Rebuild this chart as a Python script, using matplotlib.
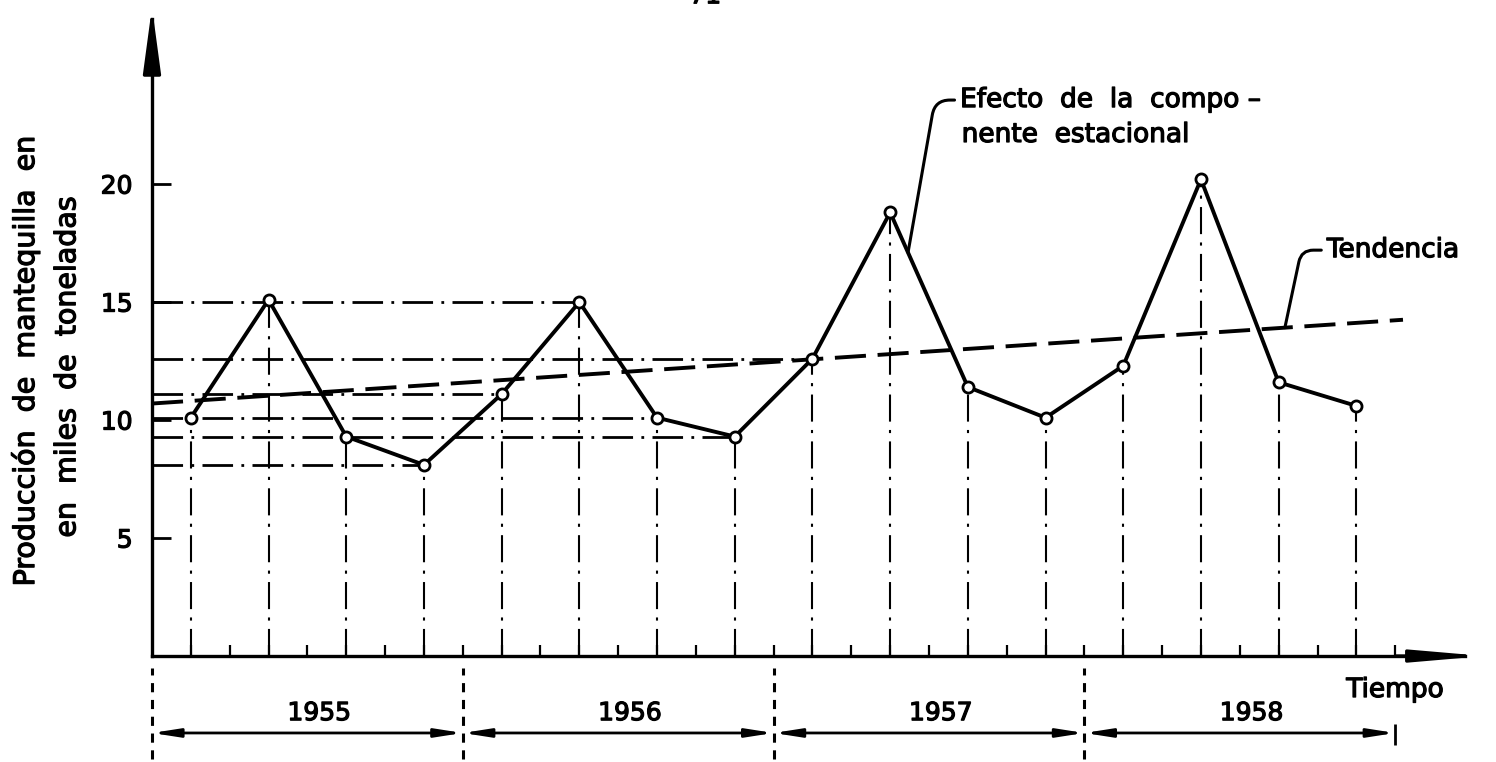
import numpy as np
import matplotlib
matplotlib.use('Agg')
import matplotlib.pyplot as plt
import matplotlib.patheffects as pe

plt.rcParams['font.family'] = ['DejaVu Sans']

# produccion trimestral de mantequilla (miles de toneladas), 1955-1958
anios = ['1955', '1956', '1957', '1958']
trimestre = np.arange(16) + 0.5
produccion = [10.1, 15.1, 9.3, 8.1,
              11.1, 15.0, 10.1, 9.3,
              12.6, 18.8, 11.4, 10.1,
              12.3, 20.2, 11.6, 10.6]
# puntos que llevan linea horizontal hasta el eje
con_referencia = [3, 4, 5, 6, 7, 8]
# recta de tendencia (extremos)
tend_t = [0.0, 16.1]
tend_v = [10.7, 14.25]
yticks = [5, 10, 15, 20]

K = 'black'
grueso = [pe.withStroke(linewidth=0.9, foreground=K)]

fig = plt.figure(figsize=(14.96, 7.62), dpi=100)
ax = fig.add_axes([0, 0, 1, 1])
ax.set_xlim(-1.956, 17.297)
ax.set_ylim(-4.49, 27.80)
ax.patch.set_visible(False)

for s in ['top', 'right']:
    ax.spines[s].set_visible(False)
ax.spines['left'].set_position(('data', 0))
ax.spines['bottom'].set_position(('data', 0))
ax.spines['left'].set_bounds(0, 27.0)
ax.spines['bottom'].set_bounds(0, 16.9)
ax.spines['left'].set_linewidth(2.4)
ax.spines['bottom'].set_linewidth(2.4)

ax.set_yticks(yticks)
ax.set_yticklabels([str(v) for v in yticks])
ax.tick_params(axis='y', direction='in', length=14, width=2, pad=14,
               labelsize=18, colors=K)
for lb in ax.get_yticklabels():
    lb.set_path_effects(grueso)
ax.set_xticks(np.arange(0.5, 16.01, 0.5))
ax.set_xticklabels([])
ax.tick_params(axis='x', direction='in', length=8, width=1.6, colors=K)

# flechas de los ejes
ax.annotate('', xy=(0, 27.5), xytext=(0, 25.5),
            arrowprops=dict(arrowstyle='-|>,head_length=2.0,head_width=0.27',
                            mutation_scale=20, lw=2.4, color=K,
                            shrinkA=0, shrinkB=0), annotation_clip=False)
ax.annotate('', xy=(17.15, 0), xytext=(16.0, 0),
            arrowprops=dict(arrowstyle='-|>,head_length=2.1,head_width=0.18',
                            mutation_scale=20, lw=2.4, color=K,
                            shrinkA=0, shrinkB=0), annotation_clip=False)

# lineas de referencia
ax.vlines(trimestre, 0, produccion, colors=K, lw=1.5,
          linestyles=[(0, (13, 4, 1.5, 4))])
ref_t = [trimestre[i] for i in con_referencia]
ref_v = [produccion[i] for i in con_referencia]
ax.hlines(ref_v, 0, ref_t, colors=K, lw=2.0,
          linestyles=[(0, (11, 3, 1, 3))])

# tendencia
ax.plot(tend_t, tend_v, color=K, lw=2.8, ls=(0, (8, 3)), solid_capstyle='butt')

# serie
ax.plot(trimestre, produccion, color=K, lw=2.8, marker='o', ms=8,
        mfc='white', mec=K, mew=2.0, zorder=5)

fs = 19
# anotaciones
t_ef = 9.73
ax.annotate('Efecto  de  la  compo –', xy=(t_ef, np.interp(t_ef, trimestre, produccion)),
            xytext=(10.4, 23.56), ha='left', va='center', fontsize=fs,
            path_effects=grueso,
            arrowprops=dict(arrowstyle='-', lw=2.2, color=K, shrinkA=2, shrinkB=0,
                            relpos=(0, 0.5),
                            connectionstyle='angle,angleA=180,angleB=80,rad=15'))
ax.text(10.42, 22.08, 'nente  estacional', ha='left', va='center', fontsize=fs,
        path_effects=grueso)

t_td = 14.58
ax.annotate('Tendencia', xy=(t_td, np.interp(t_td, tend_t, tend_v)),
            xytext=(15.12, 17.2), ha='left', va='center', fontsize=fs,
            path_effects=grueso,
            arrowprops=dict(arrowstyle='-', lw=2.2, color=K, shrinkA=2, shrinkB=0,
                            relpos=(0, 0.5),
                            connectionstyle='angle,angleA=180,angleB=78,rad=12'))

# escala de tiempo bajo el eje
ax.text(15.37, -1.44, 'Tiempo', ha='left', va='center', fontsize=fs,
        path_effects=grueso)
for i, a in enumerate(anios):
    ax.text(4 * i + 2.15, -2.42, a, ha='center', va='center', fontsize=18,
            path_effects=grueso)
    ax.annotate('', xy=(4 * i, -3.26), xytext=(4 * i + 4, -3.26),
                arrowprops=dict(arrowstyle='<|-|>,head_length=1.6,head_width=0.25',
                                mutation_scale=10, lw=2.0, color=K,
                                shrinkA=0, shrinkB=0))
ax.vlines([4 * i for i in range(len(anios))], -4.35, -0.5, colors=K, lw=2.2,
          linestyles=[(0, (3, 2.5))])
ax.vlines(16, -3.75, -2.9, colors=K, lw=2.0)

# titulo del eje y
ax.text(-1.63, 12.5, 'Producción  de  mantequilla  en', rotation=90,
        ha='center', va='center', fontsize=20.5, path_effects=grueso)
ax.text(-1.09, 12.25, 'en  miles  de  toneladas', rotation=90,
        ha='center', va='center', fontsize=20.5, path_effects=grueso)

# numero de pagina (cortado arriba, como en el original)
ax.text(7.12, 27.45, '71', ha='center', va='bottom', fontsize=18, clip_on=False,
        path_effects=grueso)

fig.savefig('out.png', dpi=100)
